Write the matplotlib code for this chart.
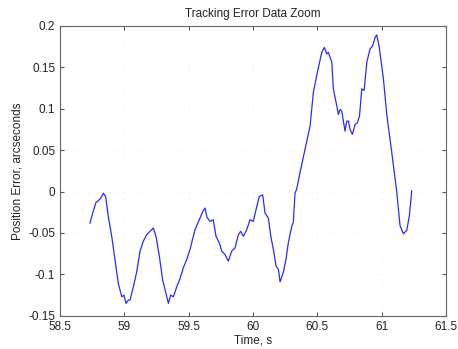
import numpy as np
import matplotlib
matplotlib.use("Agg")
import matplotlib.pyplot as plt
from matplotlib.ticker import FuncFormatter

plt.rcParams['font.family'] = ['Liberation Sans', 'DejaVu Sans']

# data
time_s = [58.733, 58.754, 58.780, 58.798, 58.816, 58.837, 58.855, 58.875, 58.902, 58.927,
          58.953, 58.980, 58.997, 59.013, 59.031, 59.044, 59.070, 59.096, 59.122, 59.147,
          59.174, 59.199, 59.225, 59.246, 59.272, 59.298, 59.324, 59.342, 59.360, 59.381,
          59.407, 59.433, 59.458, 59.485, 59.510, 59.549, 59.588, 59.609, 59.627, 59.642,
          59.666, 59.691, 59.712, 59.738, 59.757, 59.782, 59.808, 59.834, 59.860, 59.886,
          59.904, 59.925, 59.951, 59.977, 60.002, 60.029, 60.049, 60.075, 60.093, 60.119,
          60.138, 60.158, 60.179, 60.197, 60.210, 60.236, 60.256, 60.274, 60.301, 60.313,
          60.326, 60.339, 60.365, 60.404, 60.443, 60.469, 60.500, 60.534, 60.554, 60.573,
          60.585, 60.612, 60.624, 60.651, 60.663, 60.676, 60.689, 60.702, 60.715, 60.728,
          60.741, 60.754, 60.772, 60.793, 60.811, 60.827, 60.845, 60.863, 60.884, 60.909,
          60.930, 60.948, 60.961, 60.979, 61.013, 61.039, 61.078, 61.117, 61.142, 61.168,
          61.194, 61.215, 61.233]
pos_err = [-0.038, -0.026, -0.013, -0.011, -0.008, -0.002, -0.006, -0.030, -0.054, -0.082,
           -0.111, -0.127, -0.125, -0.135, -0.131, -0.131, -0.115, -0.097, -0.072, -0.060,
           -0.052, -0.048, -0.044, -0.054, -0.078, -0.107, -0.123, -0.135, -0.125, -0.127,
           -0.115, -0.105, -0.092, -0.082, -0.070, -0.046, -0.032, -0.024, -0.020, -0.031,
           -0.036, -0.034, -0.054, -0.062, -0.072, -0.076, -0.084, -0.072, -0.068, -0.052,
           -0.048, -0.054, -0.046, -0.034, -0.036, -0.018, -0.006, -0.004, -0.026, -0.032,
           -0.054, -0.070, -0.090, -0.094, -0.109, -0.097, -0.082, -0.062, -0.042, -0.037,
           -0.002, 0.003, 0.023, 0.051, 0.079, 0.120, 0.144, 0.168, 0.174, 0.166,
           0.168, 0.156, 0.124, 0.103, 0.093, 0.099, 0.097, 0.085, 0.073, 0.085,
           0.085, 0.075, 0.069, 0.081, 0.083, 0.091, 0.124, 0.122, 0.156, 0.172,
           0.176, 0.186, 0.189, 0.176, 0.136, 0.093, 0.047, -0.001, -0.041, -0.051,
           -0.047, -0.029, 0.001]

x_ticks = [58.5, 59, 59.5, 60, 60.5, 61, 61.5]
y_ticks = [-0.15, -0.1, -0.05, 0, 0.05, 0.1, 0.15, 0.2]

fig = plt.figure(figsize=(4.58, 3.49), dpi=100)
ax = fig.add_axes([0.131, 0.095, 0.843, 0.831])
ax.plot(time_s, pos_err, color='#2a2aff', linewidth=0.9)

ax.set_xlim(58.5, 61.5)
ax.set_ylim(-0.15, 0.2)
ax.set_xticks(x_ticks)
ax.set_yticks(y_ticks)
fmt = FuncFormatter(lambda v, p: '%g' % round(v, 3))
ax.xaxis.set_major_formatter(fmt)
ax.yaxis.set_major_formatter(fmt)
ax.tick_params(direction='in', top=True, right=True, length=3, labelsize=8.5,
               color='#555555', labelcolor='#222222')
for s in ax.spines.values():
    s.set_color('#666666')
    s.set_linewidth(0.8)
# faint dotted grid, barely visible like the original
ax.grid(True, linestyle=(0, (1, 6)), color='#e8e8e8', linewidth=0.6)

ax.set_title('Tracking Error Data Zoom', fontsize=8.5, color='#222222', pad=6)
ax.set_xlabel('Time, s', fontsize=8.5, color='#222222', labelpad=1)
ax.set_ylabel('Position Error, arcseconds', fontsize=8.5, color='#222222', labelpad=3)

fig.savefig('out.png', dpi=100)
